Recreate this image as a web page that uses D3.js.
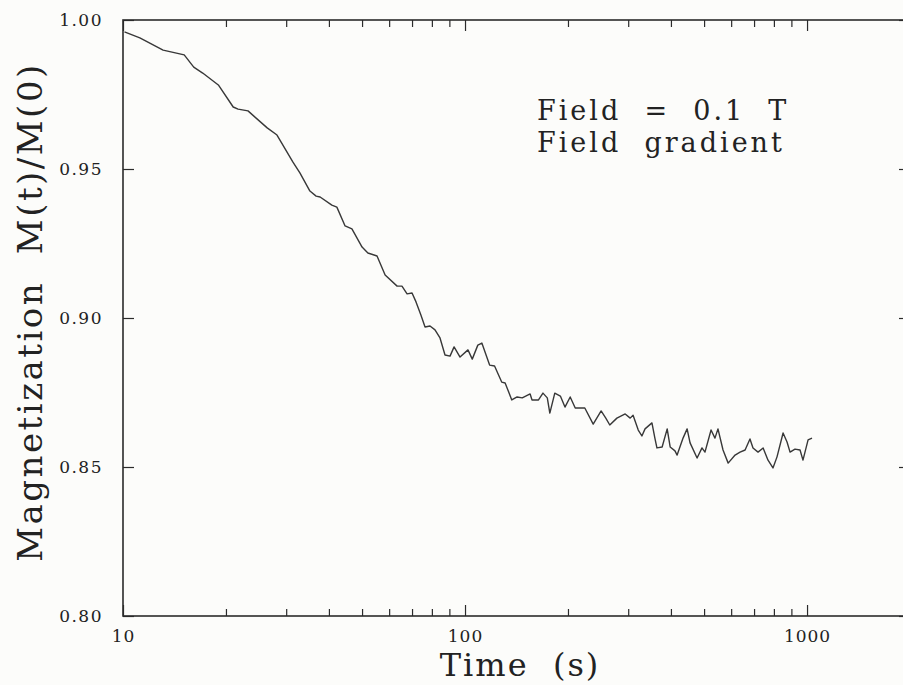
<!DOCTYPE html>
<html>
<head>
<meta charset="utf-8">
<script src="https://cdn.jsdelivr.net/npm/d3@7"></script>
<style>
    body { margin: 0; background: #fcfcfa; }
    svg { display: block; }
</style>
</head>
<body>
<div id="chart"></div>
<script>
// Time values (s)
const timeS = [10.1, 11.2, 13.1, 15.1, 16.1, 17.1, 19.0, 21.0, 21.7, 23.2,
    26.4, 28.2, 31.4, 32.9, 35.2, 36.7, 37.7, 40.8, 42.2, 44.6,
    46.7, 50.0, 52.0, 55.3, 58.4, 63.3, 65.4, 67.7, 70.0, 71.9,
    74.3, 76.4, 79.0, 81.7, 84.5, 87.4, 90.4, 92.9, 96.7, 102,
    105, 109, 112, 118, 122, 128, 131, 137, 142, 147,
    155, 157, 164, 169, 174, 177, 183, 190, 196, 203,
    210, 224, 237, 250, 258, 265, 278, 294, 304, 310,
    321, 329, 336, 352, 359, 364, 377, 390, 398, 411,
    417, 434, 446, 455, 477, 493, 503, 524, 538, 549,
    568, 588, 616, 637, 659, 681, 695, 719, 744, 769,
    795, 817, 851, 874, 892, 922, 954, 973, 1007, 1034];

// Magnetization M(t)/M(0)
const magRatio = [0.9960, 0.9940, 0.9899, 0.9883, 0.9842, 0.9822, 0.9782, 0.9708, 0.9701, 0.9695,
    0.9638, 0.9614, 0.9523, 0.9487, 0.9426, 0.9409, 0.9406, 0.9379, 0.9372, 0.9309,
    0.9299, 0.9238, 0.9218, 0.9208, 0.9144, 0.9107, 0.9107, 0.9081, 0.9084, 0.9054,
    0.9010, 0.8970, 0.8973, 0.8960, 0.8933, 0.8876, 0.8872, 0.8903, 0.8869, 0.8893,
    0.8862, 0.8909, 0.8916, 0.8842, 0.8839, 0.8785, 0.8782, 0.8725, 0.8735, 0.8732,
    0.8745, 0.8725, 0.8725, 0.8748, 0.8732, 0.8681, 0.8748, 0.8738, 0.8701, 0.8735,
    0.8698, 0.8698, 0.8644, 0.8688, 0.8664, 0.8641, 0.8664, 0.8678, 0.8664, 0.8674,
    0.8624, 0.8604, 0.8628, 0.8648, 0.8597, 0.8564, 0.8567, 0.8628, 0.8567, 0.8554,
    0.8540, 0.8597, 0.8628, 0.8581, 0.8530, 0.8564, 0.8550, 0.8624, 0.8597, 0.8628,
    0.8557, 0.8513, 0.8540, 0.8550, 0.8557, 0.8594, 0.8564, 0.8550, 0.8564, 0.8523,
    0.8497, 0.8534, 0.8614, 0.8584, 0.8550, 0.8560, 0.8557, 0.8523, 0.8591, 0.8597];

// Tick values
const xMajorTicks = [10, 100, 1000];
const xMinorTicks = [20, 30, 40, 50, 60, 70, 80, 90, 200, 300, 400, 500, 600, 700, 800, 900];
const yTicks = [0.80, 0.85, 0.90, 0.95, 1.00];

// Annotation lines
const noteLines = ["Field  =  0.1  T", "Field  gradient"];

const W = 903, H = 685;
const plotL = 123, plotR = 910, plotT = 20, plotB = 616;
const ink = "#2b2b2b";
const serif = "'DejaVu Serif', serif";

const svg = d3.select("#chart")
    .append("svg")
    .attr("width", W)
    .attr("height", H);

const x = d3.scaleLog().domain([10, 2000]).range([plotL, plotR]);
const y = d3.scaleLinear().domain([0.80, 1.00]).range([plotB, plotT]);

// helper to style axis groups
function styleAxis(g) {
    g.select(".domain").remove();
    g.selectAll(".tick line").attr("stroke", ink).attr("stroke-width", 1.2);
}

// bottom axis: major with labels, minor without
svg.append("g")
    .attr("transform", `translate(0,${plotB})`)
    .call(d3.axisBottom(x).tickValues(xMajorTicks).tickSize(-11).tickFormat(d3.format("d")))
    .call(styleAxis)
    .call(g => g.selectAll("text")
        .attr("y", 26).attr("dy", 0)
        .attr("fill", "#222")
        .style("font-family", serif)
        .style("font-size", "17px")
        .style("letter-spacing", "1px"));

svg.append("g")
    .attr("transform", `translate(0,${plotB})`)
    .call(d3.axisBottom(x).tickValues(xMinorTicks).tickSize(-7).tickFormat(""))
    .call(styleAxis);

// top axis
svg.append("g")
    .attr("transform", `translate(0,${plotT})`)
    .call(d3.axisTop(x).tickValues(xMajorTicks).tickSize(-11).tickFormat(""))
    .call(styleAxis);

svg.append("g")
    .attr("transform", `translate(0,${plotT})`)
    .call(d3.axisTop(x).tickValues(xMinorTicks).tickSize(-7).tickFormat(""))
    .call(styleAxis);

// left axis
svg.append("g")
    .attr("transform", `translate(${plotL},0)`)
    .call(d3.axisLeft(y).tickValues(yTicks).tickSize(-11).tickPadding(20).tickFormat(d3.format(".2f")))
    .call(styleAxis)
    .call(g => g.selectAll("text")
        .attr("fill", "#222")
        .style("font-family", serif)
        .style("font-size", "17px")
        .style("letter-spacing", "1.5px"));

// right axis
svg.append("g")
    .attr("transform", `translate(${plotR},0)`)
    .call(d3.axisRight(y).tickValues(yTicks).tickSize(-11).tickFormat(""))
    .call(styleAxis);

// frame
svg.append("rect")
    .attr("x", plotL)
    .attr("y", plotT)
    .attr("width", plotR - plotL)
    .attr("height", plotB - plotT)
    .attr("fill", "none")
    .attr("stroke", ink)
    .attr("stroke-width", 1.6);

// curve
const points = timeS.map((t, i) => ({ t: t, m: magRatio[i] }));
const line = d3.line()
    .x(d => x(d.t))
    .y(d => y(d.m));

svg.append("path")
    .datum(points)
    .attr("d", line)
    .attr("fill", "none")
    .attr("stroke", "#383838")
    .attr("stroke-width", 1.4)
    .attr("stroke-linejoin", "round");

// axis titles
svg.append("text")
    .attr("x", 520)
    .attr("y", 676)
    .attr("text-anchor", "middle")
    .attr("fill", "#222")
    .style("font-family", serif)
    .style("font-size", "32px")
    .style("letter-spacing", "2px")
    .style("white-space", "pre")
    .text("Time  (s)");

svg.append("text")
    .attr("transform", "translate(42,312) rotate(-90)")
    .attr("text-anchor", "middle")
    .attr("fill", "#222")
    .style("font-family", serif)
    .style("font-size", "34px")
    .style("letter-spacing", "2.5px")
    .style("white-space", "pre")
    .text("Magnetization  M(t)/M(0)");

// annotation
svg.selectAll(".note")
    .data(noteLines)
    .enter()
    .append("text")
    .attr("class", "note")
    .attr("x", 537)
    .attr("y", (d, i) => 120 + i * 32)
    .attr("fill", "#222")
    .style("font-family", serif)
    .style("font-size", "27px")
    .style("letter-spacing", "3px")
    .style("white-space", "pre")
    .text(d => d);
</script>
</body>
</html>
